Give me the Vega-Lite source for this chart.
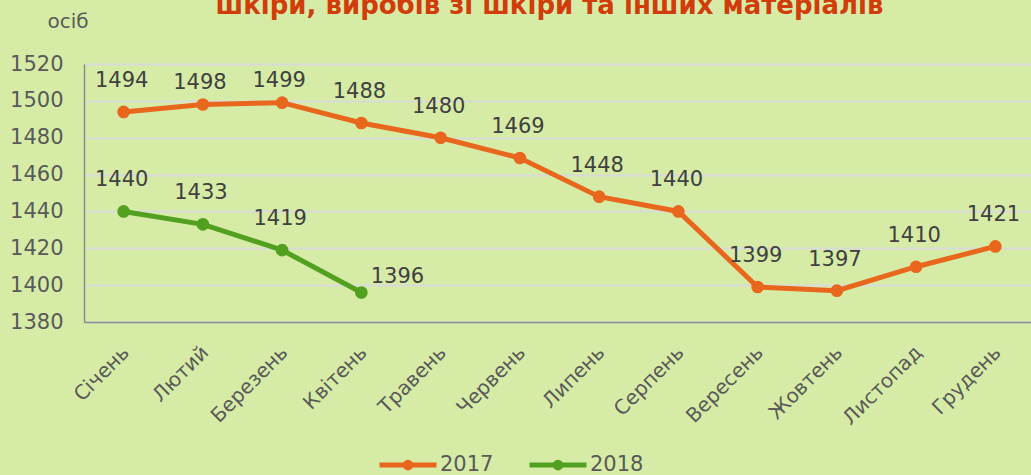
{
  "$schema": "https://vega.github.io/schema/vega-lite/v6.json",
  "autosize": "none",
  "padding": {"left": 84, "top": 64, "right": 0, "bottom": 153},
  "width": 951,
  "height": 258,
  "background": "#d6eca6",
  "title": {
    "text": "шкіри, виробів зі шкіри та інших матеріалів",
    "anchor": "middle",
    "frame": "group",
    "font": "DejaVu Sans",
    "fontSize": 26,
    "fontWeight": "bold",
    "color": "#d23c0b",
    "baseline": "alphabetic",
    "offset": 0,
    "dx": -10,
    "dy": 29
  },
  "config": {
    "view": {"stroke": null},
    "font": "DejaVu Sans",
    "axis": {"labelFont": "DejaVu Sans", "labelColor": "#595959", "titleFont": "DejaVu Sans", "titleColor": "#595959"}
  },
  "data": {
    "values": [
      {"month": "Січень", "year": "2017", "value": 1494},
      {"month": "Лютий", "year": "2017", "value": 1498},
      {"month": "Березень", "year": "2017", "value": 1499},
      {"month": "Квітень", "year": "2017", "value": 1488},
      {"month": "Травень", "year": "2017", "value": 1480},
      {"month": "Червень", "year": "2017", "value": 1469},
      {"month": "Липень", "year": "2017", "value": 1448},
      {"month": "Серпень", "year": "2017", "value": 1440},
      {"month": "Вересень", "year": "2017", "value": 1399},
      {"month": "Жовтень", "year": "2017", "value": 1397},
      {"month": "Листопад", "year": "2017", "value": 1410},
      {"month": "Грудень", "year": "2017", "value": 1421},
      {"month": "Січень", "year": "2018", "value": 1440},
      {"month": "Лютий", "year": "2018", "value": 1433},
      {"month": "Березень", "year": "2018", "value": 1419},
      {"month": "Квітень", "year": "2018", "value": 1396}
    ]
  },
  "encoding": {
    "x": {
      "field": "month",
      "type": "nominal",
      "sort": ["Січень", "Лютий", "Березень", "Квітень", "Травень", "Червень", "Липень", "Серпень", "Вересень", "Жовтень", "Листопад", "Грудень"],
      "scale": {"paddingInner": 0, "paddingOuter": 0.5},
      "axis": {
        "title": null,
        "labelAngle": -45,
        "labelFontSize": 20,
        "labelPadding": 20,
        "labelOffset": -5,
        "ticks": false,
        "grid": false,
        "domainColor": "#8c8c8c",
        "domainWidth": 1.5
      }
    },
    "y": {
      "field": "value",
      "type": "quantitative",
      "scale": {"domain": [1380, 1520], "zero": false, "nice": false},
      "axis": {
        "title": "осіб",
        "titleAngle": 0,
        "titleFontSize": 20,
        "titleFontWeight": "normal",
        "titleAlign": "left",
        "titleBaseline": "middle",
        "titleX": -37,
        "titleY": -43,
        "values": [1380, 1400, 1420, 1440, 1460, 1480, 1500, 1520],
        "format": "d",
        "labelFontSize": 21,
        "labelPadding": 21,
        "ticks": false,
        "gridColor": "#d9d9d9",
        "gridWidth": 2,
        "domainColor": "#8c8c8c",
        "domainWidth": 1.5
      }
    },
    "color": {
      "field": "year",
      "type": "nominal",
      "scale": {"domain": ["2017", "2018"], "range": ["#e8671c", "#52a01f"]},
      "legend": {
        "title": null,
        "orient": "none",
        "direction": "horizontal",
        "legendX": 293,
        "legendY": 370,
        "symbolType": "M-1,0H1M0.1,0A0.1,0.1 0 1 1 -0.1,0A0.1,0.1 0 1 1 0.1,0",
        "symbolSize": 3249,
        "symbolStrokeWidth": 5,
        "labelFontSize": 21,
        "labelColor": "#595959",
        "labelOffset": 1,
        "columnPadding": 25
      }
    }
  },
  "layer": [
    {"mark": {"type": "line", "strokeWidth": 5}},
    {"mark": {"type": "point", "filled": true, "size": 160, "opacity": 1}},
    {
      "transform": [{"filter": "!(datum.year == '2018' && datum.month == 'Квітень') && !(datum.year == '2017' && (datum.month == 'Лютий' || datum.month == 'Березень'))"}],
      "mark": {"type": "text", "fontSize": 21, "color": "#404040", "baseline": "middle", "align": "center", "dx": -2, "dy": -31},
      "encoding": {"text": {"field": "value", "type": "quantitative"}, "color": {"value": "#404040"}}
    },
    {
      "transform": [{"filter": "datum.year == '2017' && (datum.month == 'Лютий' || datum.month == 'Березень')"}],
      "mark": {"type": "text", "fontSize": 21, "color": "#404040", "baseline": "middle", "align": "center", "dx": -3, "dy": -22},
      "encoding": {"text": {"field": "value", "type": "quantitative"}, "color": {"value": "#404040"}}
    },
    {
      "transform": [{"filter": "datum.year == '2018' && datum.month == 'Квітень'"}],
      "mark": {"type": "text", "fontSize": 21, "color": "#404040", "baseline": "middle", "align": "center", "dx": 36, "dy": -16},
      "encoding": {"text": {"field": "value", "type": "quantitative"}, "color": {"value": "#404040"}}
    }
  ]
}
